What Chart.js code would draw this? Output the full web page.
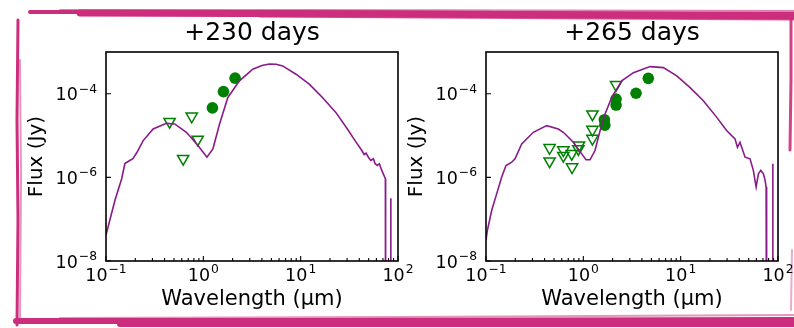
<!DOCTYPE html>
<html>
<head>
<meta charset="utf-8">
<script src="https://cdn.jsdelivr.net/npm/chart.js@4.4.1/dist/chart.umd.min.js"></script>
<style>
    html, body { margin: 0; padding: 0; background: #fff; }
    #wrap { position: relative; width: 794px; height: 328px; overflow: hidden; }
    #frame { position: absolute; left: 0; top: 0; }
    #chart230 { position: absolute; left: 0; top: 0; }
    #chart265 { position: absolute; left: 400px; top: 0; }
</style>
</head>
<body>
<div id="wrap">
    <canvas id="frame" width="794" height="328"></canvas>
    <canvas id="chart230" width="420" height="328"></canvas>
    <canvas id="chart265" width="394" height="328"></canvas>
</div>
<script>
// ---- data ----
const xTicks = [0.1, 1, 10, 100];
const xTickExp = ["\u22121", "0", "1", "2"];
const yTicks = [1e-8, 1e-6, 1e-4];
const yTickExp = ["\u22128", "\u22126", "\u22124"];

// +230 days: model SED
const sedWave230 = [0.1, 0.1236, 0.1449, 0.1563, 0.172, 0.189, 0.2075, 0.241, 0.305, 0.418, 0.508, 0.670,
    0.881, 1.089, 1.254, 1.468, 1.786, 2.35, 3.22, 4.0, 4.77, 5.6, 6.53, 8.96, 12.25, 16.75, 22.98, 30.2,
    36.2, 42.5, 44.9, 47.0, 49.6, 52.5, 55.8, 58.2, 61.4, 64.4, 68.1, 74.2, 74.6, 84.0, 84.3, 84.6];
const sedFlux230 = [4.2e-8, 2.83e-7, 9.3e-7, 2.15e-6, 2.47e-6, 2.79e-6, 3.94e-6, 7.6e-6, 1.44e-5, 1.96e-5, 1.90e-5, 1.20e-5,
    5.78e-6, 3.04e-6, 4.82e-6, 1.90e-5, 8.17e-5, 2.04e-4, 3.87e-4, 4.75e-4, 5.18e-4, 5.1e-4, 4.64e-4, 2.94e-4, 1.70e-4, 8.17e-5, 3.59e-5, 1.44e-5,
    7.6e-6, 4.39e-6, 3.53e-6, 3.79e-6, 3.04e-6, 2.54e-6, 2.79e-6, 2.12e-6, 1.93e-6, 2.12e-6, 1.47e-6, 9.3e-7, 1e-12, 1e-12, 3.16e-7, 1e-12];
// +230 days: detections and upper limits
const detWave230 = [1.24, 1.61, 2.12];
const detFlux230 = [4.6e-5, 1.13e-4, 2.37e-4];
const limWave230 = [0.45, 0.62, 0.76, 0.875];
const limFlux230 = [2.15e-5, 2.8e-6, 2.9e-5, 8.1e-6];

// +265 days: model SED
const sedWave265 = [0.1, 0.1031, 0.1145, 0.1289, 0.145, 0.1605, 0.1837, 0.1986, 0.2327, 0.306, 0.4205, 0.553, 0.623,
    0.789, 0.963, 1.066, 1.172, 1.318, 1.485, 1.672, 1.958, 2.48, 3.27, 4.85, 6.64, 9.12, 12.5, 17.1, 23.5, 29.8,
    36.2, 38.3, 40.7, 45.9, 51.6, 55.8, 59.6, 62.9, 66.6, 70.8, 73.7, 75.5, 76.4, 88.1, 88.4, 88.7];
const sedFlux265 = [3.16e-8, 5.26e-8, 1.64e-7, 4.09e-7, 1.02e-6, 1.93e-6, 2.31e-6, 2.79e-6, 6.34e-6, 1.20e-5, 1.73e-5, 1.44e-5, 1.20e-5,
    6.93e-6, 3.66e-6, 2.64e-6, 2.64e-6, 4.39e-6, 1.31e-5, 3.29e-5, 8.17e-5, 2.04e-4, 3.21e-4, 4.47e-4, 4.23e-4, 2.68e-4, 1.41e-4, 6.81e-5, 2.73e-5, 1.31e-5,
    8.34e-6, 5.26e-6, 6.93e-6, 3.04e-6, 2.79e-6, 1.47e-6, 5.87e-7, 1.22e-6, 1.47e-6, 1.22e-6, 8.5e-7, 5.87e-7, 1e-12, 1e-12, 2.12e-6, 1e-12];
// +265 days: detections and upper limits
const detWave265 = [1.645, 1.663, 2.17, 2.17, 3.48, 4.65];
const detFlux265 = [2.40e-5, 1.78e-5, 7.48e-5, 5.38e-5, 1.03e-4, 2.34e-4];
const limWave265 = [2.17, 1.24, 1.24, 1.24, 0.903, 0.889, 0.760, 0.623, 0.623, 0.450, 0.450, 0.766];
const limFlux265 = [1.64e-4, 3.25e-5, 1.39e-5, 8.5e-6, 5.9e-6, 4.8e-6, 3.7e-6, 4.5e-6, 3.3e-6, 5.1e-6, 2.45e-6, 1.77e-6];

const toPoints = (xs, ys) => xs.map((x, i) => ({ x: x, y: ys[i] }));

// frame strokes (hand-drawn pink border)
function drawFrame() {
    const ctx = document.getElementById("frame").getContext("2d");
    ctx.strokeStyle = "#cc2d7d";
    ctx.lineCap = "round";
    const strokes = [
        // top band
        [[[30, 12], [200, 12], [500, 13], [794, 14]], 4, 1],
        [[[80, 13], [400, 14], [794, 16]], 7, 1],
        [[[60, 10], [300, 10], [794, 11]], 2, 0.6],
        [[[260, 16], [600, 18], [794, 19]], 3, 0.8],
        // left side
        [[[18, 20], [17, 120], [18, 220], [17, 325]], 3, 1],
        [[[20, 60], [21, 180], [20, 320]], 2, 0.5],
        // bottom band
        [[[16, 321], [300, 321], [794, 320]], 6, 1],
        [[[120, 324], [500, 324], [794, 324]], 6, 1],
        [[[60, 318], [400, 317], [794, 315]], 2, 0.5],
        // right side
        [[[791, 14], [791, 80], [790, 150]], 3, 0.9],
        [[[792, 250], [791, 310]], 2, 0.4],
    ];
    strokes.forEach(([pts, w, a]) => {
        ctx.globalAlpha = a;
        ctx.lineWidth = w;
        ctx.beginPath();
        ctx.moveTo(pts[0][0], pts[0][1]);
        for (let i = 1; i < pts.length; i++) ctx.lineTo(pts[i][0], pts[i][1]);
        ctx.stroke();
    });
    ctx.globalAlpha = 1;
}
drawFrame();

// box, inward ticks and 10^n labels
const axisDecor = {
    id: "axisDecor",
    afterDraw(chart) {
        const { ctx, chartArea: a, scales: { x, y } } = chart;
        ctx.save();
        ctx.strokeStyle = "#000";
        ctx.fillStyle = "#000";
        ctx.lineWidth = 1.6;
        ctx.strokeRect(a.left, a.top, a.right - a.left, a.bottom - a.top);

        ctx.lineWidth = 1.1;
        ctx.beginPath();
        // x minor ticks
        for (let k = -1; k <= 1; k++) {
            for (let m = 2; m <= 9; m++) {
                const px = x.getPixelForValue(m * Math.pow(10, k));
                ctx.moveTo(px, a.bottom);
                ctx.lineTo(px, a.bottom - 3);
            }
        }
        // x major ticks
        xTicks.forEach((v) => {
            const px = x.getPixelForValue(v);
            ctx.moveTo(px, a.bottom);
            ctx.lineTo(px, a.bottom - 5);
        });
        // y major ticks
        yTicks.forEach((v) => {
            const py = y.getPixelForValue(v);
            ctx.moveTo(a.left, py);
            ctx.lineTo(a.left + 5, py);
        });
        ctx.stroke();

        const baseFont = "17.5px 'DejaVu Sans'";
        const expFont = "12.3px 'DejaVu Sans'";
        const label = (exp, px, py, align, lift) => {
            ctx.font = baseFont;
            const wb = ctx.measureText("10").width;
            ctx.font = expFont;
            const we = ctx.measureText(exp).width;
            const w = wb + 1 + we;
            const x0 = align === "center" ? px - w / 2 : px - w;
            ctx.textBaseline = "alphabetic";
            ctx.textAlign = "left";
            ctx.font = baseFont;
            ctx.fillText("10", x0, py);
            ctx.font = expFont;
            ctx.fillText(exp, x0 + wb + 1, py - lift);
        };
        xTicks.forEach((v, i) => label(xTickExp[i], x.getPixelForValue(v), a.bottom + 20, "center", 8.5));
        yTicks.forEach((v, i) => label(yTickExp[i], a.left - 9, y.getPixelForValue(v) + 6.5, "right", 7.5));
        ctx.restore();
    },
};

function makeChart(id, title, sedW, sedF, detW, detF, limW, limF, yAxisWidth, yTitlePad, padRight) {
    return new Chart(document.getElementById(id), {
        type: "scatter",
        data: {
            datasets: [
                {
                    data: toPoints(sedW, sedF),
                    showLine: true,
                    borderColor: "#8a1a8a",
                    borderWidth: 1.6,
                    pointRadius: 0,
                    tension: 0,
                },
                {
                    data: toPoints(detW, detF),
                    pointStyle: "circle",
                    pointRadius: 5.8,
                    backgroundColor: "#008000",
                    borderColor: "#008000",
                    borderWidth: 0,
                },
                {
                    data: toPoints(limW, limF),
                    pointStyle: "triangle",
                    rotation: 180,
                    pointRadius: 6.5,
                    backgroundColor: "rgba(0,0,0,0)",
                    borderColor: "#008000",
                    borderWidth: 1.5,
                },
            ],
        },
        options: {
            responsive: false,
            animation: false,
            layout: { autoPadding: false, padding: { left: 0, right: padRight, top: 0, bottom: 0 } },
            plugins: {
                legend: { display: false },
                tooltip: { enabled: false },
                title: {
                    display: true,
                    text: title,
                    fullSize: false,
                    color: "#000",
                    font: { family: "'DejaVu Sans'", size: 25, weight: "normal", lineHeight: 1.2 },
                    padding: { top: 18, bottom: 4 },
                },
            },
            scales: {
                x: {
                    type: "logarithmic",
                    min: 0.1,
                    max: 100,
                    grid: { display: false },
                    border: { display: false },
                    ticks: { display: false },
                    title: {
                        display: true,
                        text: "Wavelength (\u03bcm)",
                        color: "#000",
                        font: { family: "'DejaVu Sans'", size: 21, lineHeight: 1.2 },
                        padding: { top: 0, bottom: 15.4 },
                    },
                    afterFit: (scale) => { scale.height = 67; },
                },
                y: {
                    type: "logarithmic",
                    min: 1e-8,
                    max: 1e-3,
                    grid: { display: false },
                    border: { display: false },
                    ticks: { display: false },
                    title: {
                        display: true,
                        text: "Flux (Jy)",
                        color: "#000",
                        font: { family: "'DejaVu Sans'", size: 20, lineHeight: 1.2 },
                        padding: { top: yTitlePad, bottom: 0 },
                    },
                    afterFit: (scale) => { scale.width = yAxisWidth; },
                },
            },
        },
        plugins: [axisDecor],
    });
}

makeChart("chart230", "+230 days", sedWave230, sedFlux230, detWave230, detFlux230, limWave230, limFlux230, 106, 24.4, 22);
makeChart("chart265", "+265 days", sedWave265, sedFlux265, detWave265, detFlux265, limWave265, limFlux265, 86, 5.1, 16);
</script>
</body>
</html>
